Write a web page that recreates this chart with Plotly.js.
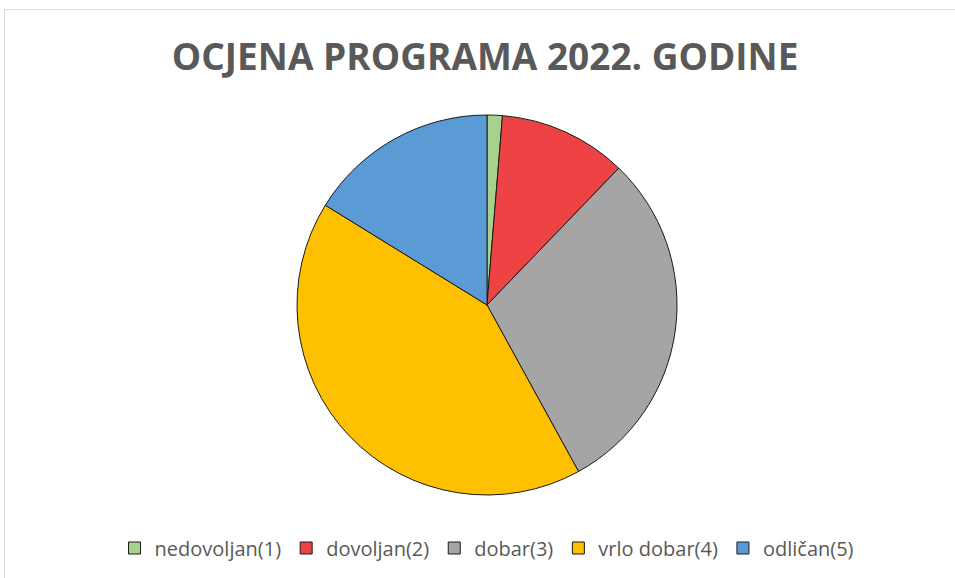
<!DOCTYPE html>
<html>
<head>
<meta charset="utf-8">
<script src="https://cdn.plot.ly/plotly-3.0.1.min.js"></script>
<style>
html,body{margin:0;padding:0;background:#fff;}
#frame{position:absolute;left:4px;top:9px;width:1000px;height:600px;border:1px solid #d9d9d9;box-sizing:border-box;}
#chart{position:absolute;left:0;top:0;width:955px;height:578px;}
</style>
</head>
<body>
<div id="frame"></div>
<div id="chart"></div>
<script>
const labels = ["nedovoljan(1)", "dovoljan(2)", "dobar(3)", "vrlo dobar(4)", "odličan(5)"];
const values = [1.3, 10.9, 29.8, 41.8, 16.2];
const colors = ["#a9d18e", "#ed4345", "#a5a5a5", "#ffc000", "#5b9bd5"];
const titleText = "OCJENA PROGRAMA 2022. GODINE";

const trace = {
  type: "pie",
  labels: labels,
  values: values,
  sort: false,
  direction: "clockwise",
  rotation: 0,
  textinfo: "none",
  hoverinfo: "label+percent",
  marker: {colors: colors, line: {color: "#1a1a1a", width: 1}},
  domain: {x: [297/955, 677/955], y: [83/578, 463/578]}
};

const layout = {
  width: 955, height: 578,
  margin: {l: 0, r: 0, t: 0, b: 0},
  paper_bgcolor: "rgba(0,0,0,0)",
  plot_bgcolor: "rgba(0,0,0,0)",
  showlegend: true,
  title: {
    text: "<b>" + titleText + "</b>",
    x: 0.508, xanchor: "center",
    y: 1 - 57/578, yanchor: "middle",
    font: {family: "Open Sans, Liberation Sans, sans-serif", size: 37, color: "#595959"}
  },
  legend: {
    orientation: "h",
    x: 0.51, xanchor: "center",
    y: 1 - 548/578, yanchor: "middle",
    font: {family: "Open Sans, Liberation Sans, sans-serif", size: 20, color: "#595959"},
    itemwidth: 30,
    traceorder: "normal"
  }
};

Plotly.newPlot("chart", [trace], layout, {displayModeBar: false, staticPlot: true});
</script>
</body>
</html>
